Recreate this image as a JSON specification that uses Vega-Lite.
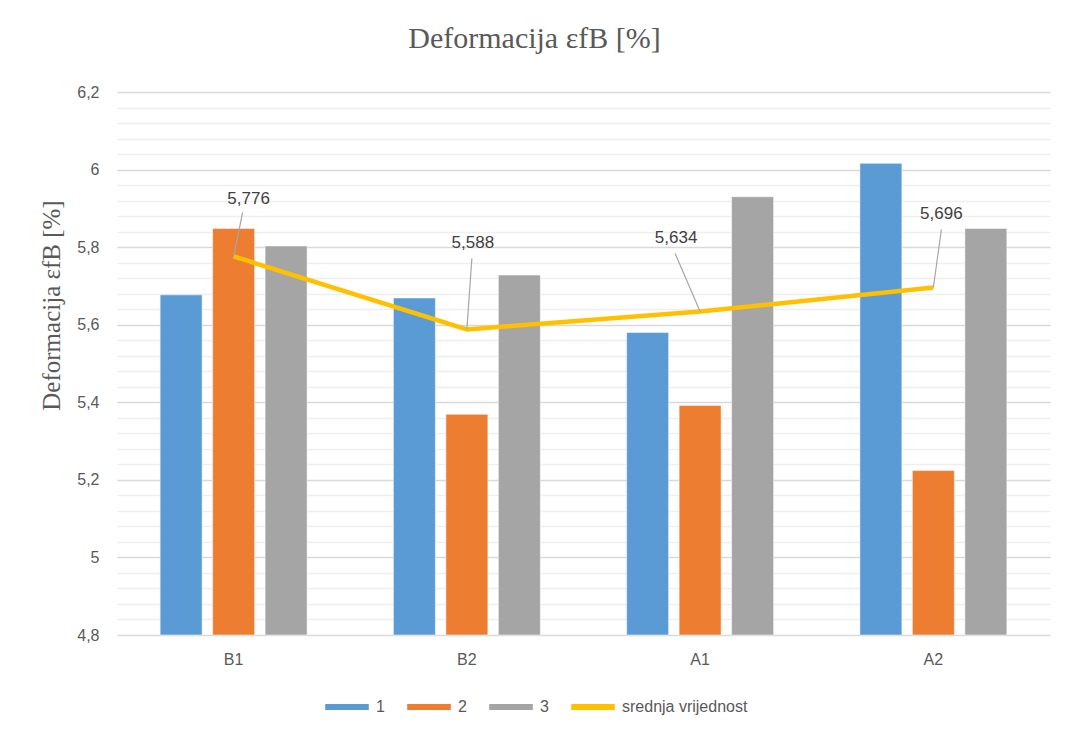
{
  "$schema": "https://vega.github.io/schema/vega-lite/v6.json",
  "width": 933,
  "height": 543,
  "autosize": {"type": "none"},
  "padding": {"left": 117, "right": 17, "top": 92, "bottom": 103},
  "background": "#ffffff",
  "config": {
    "locale": {"number": {"decimal": ",", "thousands": ".", "grouping": [3], "currency": ["", " €"]}},
    "view": {"stroke": null},
    "font": "Liberation Sans"
  },
  "title": {
    "text": "Deformacija εfB [%]",
    "font": "Liberation Serif",
    "fontSize": 30,
    "fontWeight": "normal",
    "color": "#595959",
    "anchor": "middle",
    "dx": -49,
    "offset": 30
  },
  "datasets": {
    "bars": [
      {"cat": "B1", "series": "1", "value": 5.677},
      {"cat": "B1", "series": "2", "value": 5.848},
      {"cat": "B1", "series": "3", "value": 5.803},
      {"cat": "B2", "series": "1", "value": 5.669},
      {"cat": "B2", "series": "2", "value": 5.369},
      {"cat": "B2", "series": "3", "value": 5.728},
      {"cat": "A1", "series": "1", "value": 5.580},
      {"cat": "A1", "series": "2", "value": 5.392},
      {"cat": "A1", "series": "3", "value": 5.930},
      {"cat": "A2", "series": "1", "value": 6.016},
      {"cat": "A2", "series": "2", "value": 5.224},
      {"cat": "A2", "series": "3", "value": 5.848}
    ],
    "means": [
      {"cat": "B1", "mean": 5.776},
      {"cat": "B2", "mean": 5.588},
      {"cat": "A1", "mean": 5.634},
      {"cat": "A2", "mean": 5.696}
    ]
  },
  "encoding": {
    "x": {
      "field": "cat", "type": "nominal", "sort": ["B1", "B2", "A1", "A2"],
      "scale": {"paddingInner": 0.37, "paddingOuter": 0.185},
      "axis": {"title": null, "labelAngle": 0, "ticks": false, "domain": false, "labelFontSize": 16, "labelColor": "#595959", "labelPadding": 16, "labelFont": "Liberation Sans"}
    }
  },
  "layer": [
    {
      "data": {"name": "bars"},
      "mark": {"type": "bar", "stroke": "#ffffff", "strokeWidth": 0.5},
      "encoding": {
        "xOffset": {"field": "series", "type": "nominal", "scale": {"paddingInner": 0.2}},
        "y": {
          "field": "value", "type": "quantitative",
          "scale": {"domain": [4.8, 6.2], "nice": false, "zero": false},
          "axis": {
            "title": "Deformacija εfB [%]",
            "titleFont": "Liberation Serif", "titleFontSize": 25, "titleFontWeight": "normal", "titleColor": "#595959", "titlePadding": 12,
            "titleY": 213,
            "values": [4.8,4.84,4.88,4.92,4.96,5,5.04,5.08,5.12,5.16,5.2,5.24,5.28,5.32,5.36,5.4,5.44,5.48,5.52,5.56,5.6,5.64,5.68,5.72,5.76,5.8,5.84,5.88,5.92,5.96,6,6.04,6.08,6.12,6.16,6.2],
            "tickCount": 50,
            "labelOverlap": false,
            "labelExpr": "abs(datum.value*5 - round(datum.value*5)) < 0.0001 ? replace(format(datum.value, '~g'), '.', ',') : ''",
            "labelFontSize": 16, "labelColor": "#595959", "labelPadding": 18,
            "ticks": false, "domain": false,
            "grid": true,
            "gridColor": {"condition": {"test": "abs(datum.value*5 - round(datum.value*5)) < 0.0001", "value": "#d9d9d9"}, "value": "#efefef"},
            "gridWidth": 1.5
          }
        },
        "y2": {"datum": 4.8},
        "color": {
          "field": "series", "type": "nominal",
          "scale": {"domain": ["1", "2", "3", "srednja vrijednost"], "range": ["#5B9BD5", "#ED7D31", "#A5A5A5", "#FFC000"]},
          "legend": {
            "title": null, "orient": "none", "legendX": 205, "legendY": 590, "direction": "horizontal",
            "symbolType": "stroke", "symbolStrokeWidth": 6, "symbolSize": 1900, "symbolOpacity": 1,
            "labelFontSize": 16, "labelColor": "#595959", "columnPadding": 10, "labelLimit": 300
          }
        }
      }
    },
    {
      "data": {"name": "means"},
      "mark": {"type": "line", "strokeWidth": 4.5, "color": "#FFC000"},
      "encoding": {
        "y": {"field": "mean", "type": "quantitative"},
        "color": {"datum": "srednja vrijednost"}
      }
    },
    {
      "data": {"name": "means"},
      "transform": [{"filter": {"field": "cat", "equal": "B1"}}],
      "layer": [
        {"mark": {"type": "rule", "color": "#A6A6A6", "strokeWidth": 1.2, "x2Offset": 9, "y2Offset": -44},
         "encoding": {"y": {"field": "mean", "type": "quantitative"}, "x2": {"field": "cat"}, "y2": {"field": "mean"}}},
        {"mark": {"type": "text", "dx": 15, "dy": -57, "fontSize": 17, "color": "#404040", "baseline": "middle"},
         "encoding": {"y": {"field": "mean", "type": "quantitative"}, "text": {"field": "mean", "type": "quantitative", "format": ".3f"}}}
      ]
    },
    {
      "data": {"name": "means"},
      "transform": [{"filter": {"field": "cat", "equal": "B2"}}],
      "layer": [
        {"mark": {"type": "rule", "color": "#A6A6A6", "strokeWidth": 1.2, "x2Offset": 5, "y2Offset": -71},
         "encoding": {"y": {"field": "mean", "type": "quantitative"}, "x2": {"field": "cat"}, "y2": {"field": "mean"}}},
        {"mark": {"type": "text", "dx": 6, "dy": -86, "fontSize": 17, "color": "#404040", "baseline": "middle"},
         "encoding": {"y": {"field": "mean", "type": "quantitative"}, "text": {"field": "mean", "type": "quantitative", "format": ".3f"}}}
      ]
    },
    {
      "data": {"name": "means"},
      "transform": [{"filter": {"field": "cat", "equal": "A1"}}],
      "layer": [
        {"mark": {"type": "rule", "color": "#A6A6A6", "strokeWidth": 1.2, "x2Offset": -25, "y2Offset": -58},
         "encoding": {"y": {"field": "mean", "type": "quantitative"}, "x2": {"field": "cat"}, "y2": {"field": "mean"}}},
        {"mark": {"type": "text", "dx": -24, "dy": -74, "fontSize": 17, "color": "#404040", "baseline": "middle"},
         "encoding": {"y": {"field": "mean", "type": "quantitative"}, "text": {"field": "mean", "type": "quantitative", "format": ".3f"}}}
      ]
    },
    {
      "data": {"name": "means"},
      "transform": [{"filter": {"field": "cat", "equal": "A2"}}],
      "layer": [
        {"mark": {"type": "rule", "color": "#A6A6A6", "strokeWidth": 1.2, "x2Offset": 8, "y2Offset": -58},
         "encoding": {"y": {"field": "mean", "type": "quantitative"}, "x2": {"field": "cat"}, "y2": {"field": "mean"}}},
        {"mark": {"type": "text", "dx": 8, "dy": -73, "fontSize": 17, "color": "#404040", "baseline": "middle"},
         "encoding": {"y": {"field": "mean", "type": "quantitative"}, "text": {"field": "mean", "type": "quantitative", "format": ".3f"}}}
      ]
    }
  ]
}
